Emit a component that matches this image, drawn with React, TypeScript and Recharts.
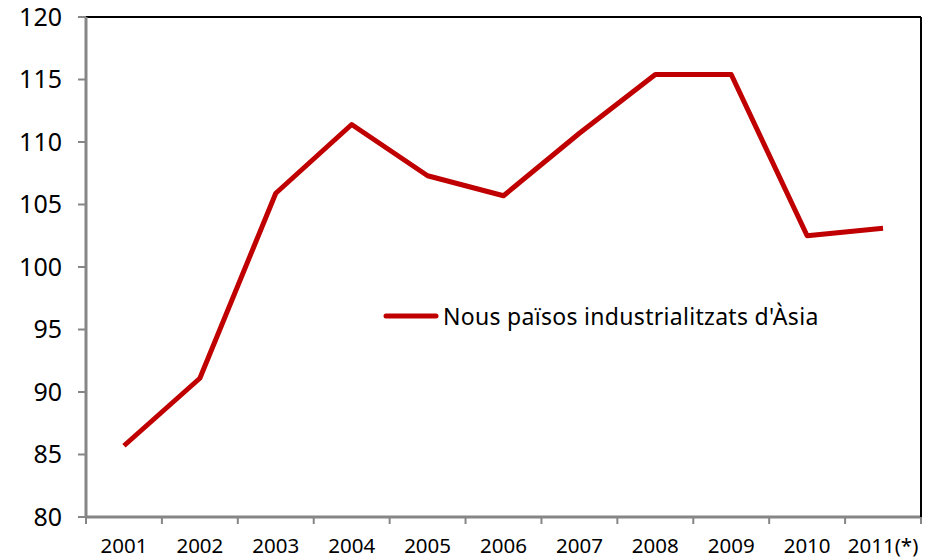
import React from 'react';
import { LineChart, Line, XAxis, YAxis, Legend } from 'recharts';

const years = ['2001', '2002', '2003', '2004', '2005', '2006', '2007', '2008', '2009', '2010', '2011(*)'];
const values = [85.7, 91.1, 105.9, 111.4, 107.3, 105.7, 110.7, 115.4, 115.4, 102.5, 103.1];
const yTicks = [80, 85, 90, 95, 100, 105, 110, 115, 120];
const seriesName = "Nous països industrialitzats d'Àsia";

// each year sits in the middle of its band on a numeric axis 0..N
const data = years.map((year, i) => ({ year, pos: i + 0.5, value: values[i] }));
const xTicks = years.flatMap((_, i) => [i, i + 0.5]).concat(years.length);

const FONT = "'Noto Sans', sans-serif";
const RED = '#c00000';
const GREY = '#868686';

// whole numbers are band edges (tick marks), halves are band centres (labels)
const XTick = (props: any) => {
  const { x, y, payload } = props;
  const v = payload.value as number;
  if (Number.isInteger(v)) {
    return <line x1={x} y1={y} x2={x} y2={y + 7} stroke={GREY} strokeWidth={2} />;
  }
  return (
    <text x={x} y={y + 21} dy="0.71em" textAnchor="middle" fontSize={20.5} fontFamily={FONT} fill="#000">
      {years[Math.floor(v)]}
    </text>
  );
};

const LegendBox = () => (
  <div style={{ display: 'flex', alignItems: 'center', fontFamily: FONT, fontSize: 23, color: '#000', whiteSpace: 'nowrap' }}>
    <svg width={58} height={10} style={{ marginRight: 2 }}>
      <line x1={3} y1={5} x2={53} y2={5} stroke={RED} strokeWidth={5} strokeLinecap="round" />
    </svg>
    <span style={{ letterSpacing: 0.3 }}>{seriesName}</span>
  </div>
);

const App: React.FC = () => (
  <div style={{ position: 'absolute', left: 0, top: 0, background: '#fff' }}>
    <LineChart width={931} height={560} data={data} margin={{ top: 16, right: 9, left: 0, bottom: 0 }}>
      <XAxis
        dataKey="pos" type="number" domain={[0, years.length]} ticks={xTicks} interval={0}
        height={43} tickSize={0} tickMargin={0} tickLine={false} tick={<XTick />}
        axisLine={{ stroke: GREY, strokeWidth: 3 }} allowDataOverflow
      />
      <XAxis
        xAxisId="top" orientation="top" type="number" domain={[0, 1]} height={1}
        tick={false} tickLine={false} axisLine={{ stroke: '#000', strokeWidth: 2 }}
      />
      <YAxis
        domain={[80, 120]} ticks={yTicks} width={86} interval={0}
        tickSize={8} tickMargin={16} tickLine={{ stroke: GREY, strokeWidth: 2 }}
        axisLine={{ stroke: GREY, strokeWidth: 3 }}
        tick={{ fontSize: 25, fill: '#000', fontFamily: FONT }}
      />
      <YAxis
        yAxisId="right" orientation="right" type="number" domain={[0, 1]} width={1}
        tick={false} tickLine={false} axisLine={{ stroke: '#000', strokeWidth: 2 }}
      />
      <Legend
        content={<LegendBox />} layout="horizontal" verticalAlign="middle" align="center"
        wrapperStyle={{ left: 383, top: 300, width: 'auto' }}
      />
      <Line
        dataKey="value" name={seriesName} stroke={RED} strokeWidth={5}
        dot={false} isAnimationActive={false} strokeLinejoin="round"
      />
    </LineChart>
  </div>
);

export default App;
